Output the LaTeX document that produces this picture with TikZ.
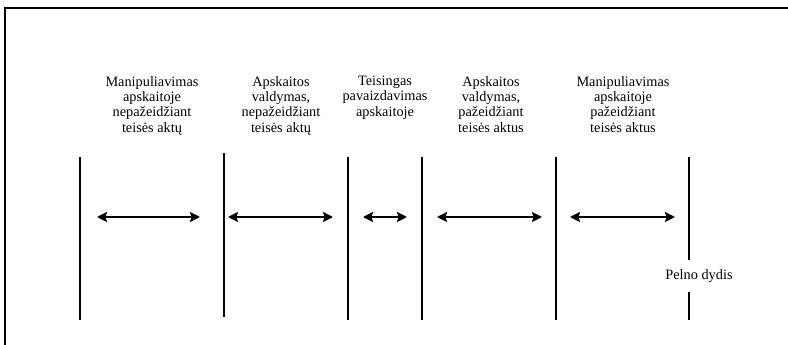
\documentclass[tikz,border=0pt]{standalone}
\usepackage{fontspec}
\setmainfont{Liberation Serif}
\usetikzlibrary{arrows.meta}
\begin{document}
\begin{tikzpicture}[x=1pt, y=-1pt]

  \tikzstyle{label} = [anchor=north, inner sep=0, align=center, font=\fontsize{14.3}{15.3}\selectfont]
  \tikzstyle{bound} = [line width=1.4]
  \tikzstyle{span} = [line width=2, {Stealth[length=10pt,width=10pt,inset=1.5pt]}-{Stealth[length=10pt,width=10pt,inset=1.5pt]}]

  \useasboundingbox (0,0) rectangle (788,345);

  % frame
  \coordinate (frameL) at (5,8);
  \coordinate (frameR) at (788,8);
  \coordinate (frameB) at (5,345);
  \draw[line width=1.3] (frameB) -- (frameL) -- (frameR);
  \draw[line width=2] (726,8) -- (frameR);

  % limits
  \coordinate (t1) at (80,157);   \coordinate (b1) at (80,320);
  \coordinate (t2) at (224,153);  \coordinate (b2) at (224,317);
  \coordinate (t3) at (348,157);  \coordinate (b3) at (348,320);
  \coordinate (t4) at (422,157);  \coordinate (b4) at (422,320);
  \coordinate (t5) at (556,157);  \coordinate (b5) at (556,320);
  \coordinate (t6) at (689,157);  \coordinate (b6) at (689,320);

  \draw[bound] (t1) -- (b1);
  \draw[bound] (t2) -- (b2);
  \draw[bound] (t3) -- (b3);
  \draw[bound] (t4) -- (b4);
  \draw[bound] (t5) -- (b5);

  \node[inner sep=0, minimum height=32pt] (profit) at (699,276) {\fontsize{14.3}{15.3}\selectfont Pelno dydis};
  \draw[bound] (t6) -- (profit.north -| t6);
  \draw[bound] (profit.south -| t6) -- (b6);

  % labels
  \node[label] (manip1) at (152,76) {Manipuliavimas\\apskaitoje\\nepažeidžiant\\teisės aktų};
  \node[label] (valdy1) at (281,76) {Apskaitos\\valdymas,\\nepažeidžiant\\teisės aktų};
  \node[label] (teis)   at (385,76) {Teisingas\\pavaizdavimas\\apskaitoje};
  \node[label] (valdy2) at (491,76) {Apskaitos\\valdymas,\\pažeidžiant\\teisės aktus};
  \node[label] (manip2) at (623,76) {Manipuliavimas\\apskaitoje\\pažeidžiant\\teisės aktus};

  % spans
  \coordinate (a1) at (97,217);   \coordinate (e1) at (200,217);
  \coordinate (a2) at (228,217);  \coordinate (e2) at (333,217);
  \coordinate (a3) at (363,217);  \coordinate (e3) at (407,217);
  \coordinate (a4) at (437,217);  \coordinate (e4) at (542,217);
  \coordinate (a5) at (570,217);  \coordinate (e5) at (675,217);

  \draw[span] (a1) -- (e1);
  \draw[span] (a2) -- (e2);
  \draw[span] (a3) -- (e3);
  \draw[span] (a4) -- (e4);
  \draw[span] (a5) -- (e5);

\end{tikzpicture}
\end{document}
